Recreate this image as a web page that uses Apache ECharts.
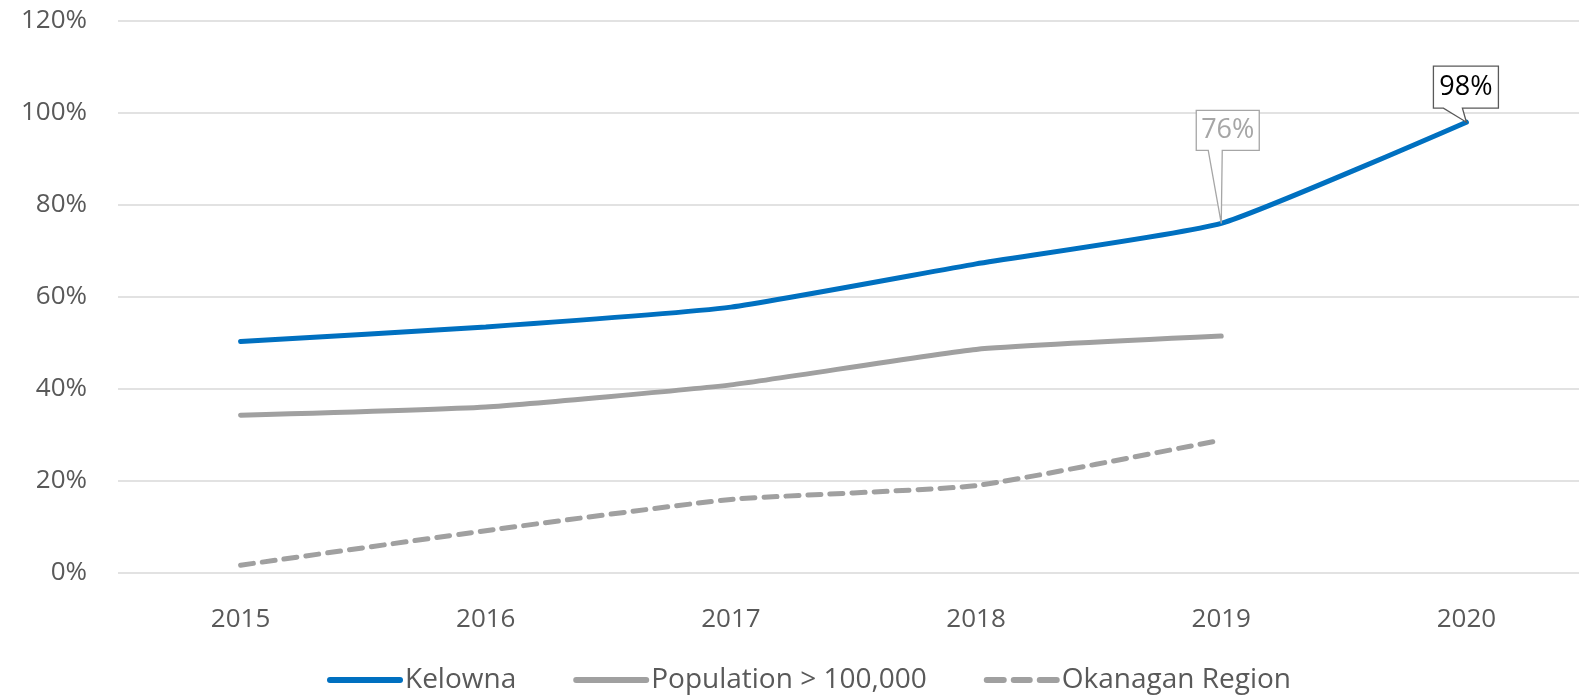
<!DOCTYPE html>
<html>
<head>
<meta charset="utf-8">
<script src="https://cdn.jsdelivr.net/npm/echarts@6/dist/echarts.min.js"></script>
<style>
  html, body { margin: 0; padding: 0; background: #ffffff; }
  #chart { width: 1579px; height: 696px; }
</style>
</head>
<body>
<div id="chart"></div>
<script>
// Share of households (%) by year
const years = ['2015', '2016', '2017', '2018', '2019', '2020'];
const kelowna = [50.3, 53.5, 57.8, 67.2, 76, 98];
const popOver100k = [34.3, 36.1, 40.9, 48.6, 51.5, null];
const okanagan = [1.7, 9.2, 16.0, 19.0, 28.9, null];
const yTicks = { min: 0, max: 120, interval: 20 };

const FONT = '"Open Sans", Lato, sans-serif';
const BLUE = '#0070C0';
const GREY = '#A0A0A0';
const TEXT = '#595959';

// Legend swatches: a solid bar and a three-dash bar, 76 x 6
const SOLID_ICON = 'path://M3,0 H73 A3,3 0 0 1 73,6 H3 A3,3 0 0 1 3,0 Z';
const DASH_ICON = 'path://M3,0 H20 A3,3 0 0 1 20,6 H3 A3,3 0 0 1 3,0 Z ' +
  'M30,0 H46 A3,3 0 0 1 46,6 H30 A3,3 0 0 1 30,0 Z ' +
  'M56,0 H73 A3,3 0 0 1 73,6 H56 A3,3 0 0 1 56,0 Z';

// Callouts on the Kelowna line: box edges [left, right, top, bottom] and tail base,
// both relative to the data point
const callouts = [
  { idx: 4, box: [-25, 38, -113, -73], tail: [-13, 1], border: '#A6A6A6', color: '#A6A6A6' },
  { idx: 5, box: [-33, 32, -56, -14], tail: [-23, -4], border: '#595959', color: '#000000' }
];

const chart = echarts.init(document.getElementById('chart'), null, { renderer: 'canvas' });

chart.setOption({
  animation: false,
  backgroundColor: '#ffffff',
  textStyle: { fontFamily: FONT },
  // plot area runs a little past the right edge of the canvas
  grid: { left: 118, right: -10, top: 21, bottom: 123, outerBoundsMode: 'none', containLabel: false },
  legend: {
    data: [
      { name: 'Kelowna', icon: SOLID_ICON },
      { name: 'Population > 100,000', icon: SOLID_ICON },
      { name: 'Okanagan Region', icon: DASH_ICON }
    ],
    top: 661,
    left: 322,
    itemWidth: 76,
    itemHeight: 6,
    itemGap: 57,
    textStyle: { color: TEXT, fontSize: 28, fontFamily: FONT, padding: [0, 0, 0, -3] }
  },
  xAxis: {
    type: 'category',
    data: years,
    boundaryGap: true,
    axisLine: { show: false },
    axisTick: { show: false },
    axisLabel: { color: TEXT, fontSize: 26, margin: 34, fontFamily: FONT }
  },
  yAxis: {
    type: 'value',
    min: yTicks.min,
    max: yTicks.max,
    interval: yTicks.interval,
    axisLine: { show: false },
    axisTick: { show: false },
    axisLabel: {
      color: TEXT, fontSize: 26, margin: 31, fontFamily: FONT,
      formatter: '{value}%'
    },
    splitLine: { lineStyle: { color: '#D9D9D9', width: 1.5 } }
  },
  series: [
    {
      name: 'Kelowna', type: 'line', data: kelowna,
      symbol: 'none', smooth: 0.15,
      lineStyle: { color: BLUE, width: 5, cap: 'round' },
      itemStyle: { color: BLUE }
    },
    {
      name: 'Population > 100,000', type: 'line', data: popOver100k,
      symbol: 'none', smooth: 0.15,
      lineStyle: { color: GREY, width: 5, cap: 'round' },
      itemStyle: { color: GREY }
    },
    {
      name: 'Okanagan Region', type: 'line', data: okanagan,
      symbol: 'none', smooth: 0.15,
      lineStyle: { color: GREY, width: 5, type: [13, 9], cap: 'round' },
      itemStyle: { color: GREY }
    },
    {
      name: 'callouts', type: 'custom', z: 10, silent: true,
      data: callouts.map(c => [c.idx, kelowna[c.idx]]),
      renderItem: function (params, api) {
        const c = callouts[params.dataIndex];
        const p = api.coord([api.value(0), api.value(1)]);
        const [l, r, t, b] = c.box;
        const x0 = p[0] + l, x1 = p[0] + r, y0 = p[1] + t, y1 = p[1] + b;
        const pts = [
          [x0, y0], [x1, y0], [x1, y1],
          [p[0] + c.tail[1], y1], [p[0], p[1]], [p[0] + c.tail[0], y1],
          [x0, y1]
        ];
        return {
          type: 'group',
          children: [
            {
              type: 'polygon',
              shape: { points: pts },
              style: { fill: '#ffffff', stroke: c.border, lineWidth: 1.3 }
            },
            {
              type: 'text',
              style: {
                x: (x0 + x1) / 2, y: (y0 + y1) / 2,
                text: api.value(1) + '%',
                fill: c.color, font: '27px ' + FONT,
                align: 'center', verticalAlign: 'middle'
              }
            }
          ]
        };
      }
    }
  ]
});
</script>
</body>
</html>
